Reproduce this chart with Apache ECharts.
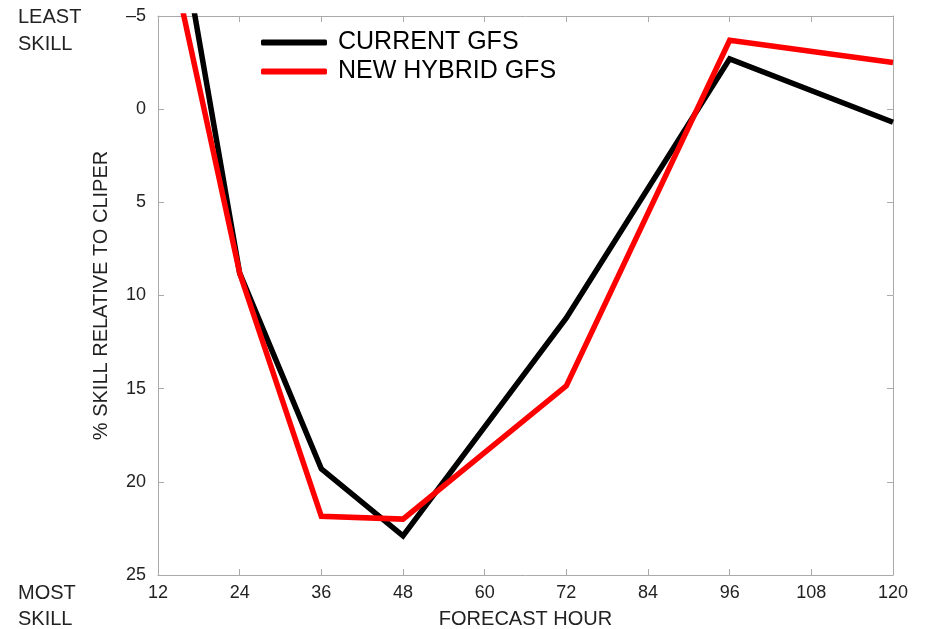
<!DOCTYPE html>
<html>
<head>
<meta charset="utf-8">
<script src="https://cdn.jsdelivr.net/npm/echarts@6/dist/echarts.min.js"></script>
<style>html,body{margin:0;padding:0;background:#fff;}#c{width:925px;height:629px;}</style>
</head>
<body>
<div id="c"></div>
<script>
const hours = [12, 24, 36, 48, 72, 96, 120];
const currentGFS = [-16.4, 8.8, 19.3, 22.9, 11.2, -2.7, 0.7];
const hybridGFS = [-11.4, 8.8, 21.85, 22.0, 14.85, -3.7, -2.5];
const xTicks = [12, 24, 36, 48, 60, 72, 84, 96, 108, 120];
const yTicks = [-5, 0, 5, 10, 15, 20, 25];
const seriesNames = ['CURRENT GFS', 'NEW HYBRID GFS'];

const FONT = 'Liberation Sans';
const chart = echarts.init(document.getElementById('c'));
const tickStyle = {show: true, inside: true, length: 6, lineStyle: {color: '#aaa'}};
const lineStyleAxis = {show: true, onZero: false, lineStyle: {color: '#aaa', width: 1}};
const fmtMinus = v => String(v).replace('-', '\u2013');

chart.setOption({
  animation: false,
  backgroundColor: '#fff',
  grid: {left: 158, right: 32, top: 16, bottom: 54, outerBoundsMode: 'none', containLabel: false},
  legend: {
    orient: 'vertical', left: 256, top: 25,
    itemWidth: 66, itemHeight: 6, itemGap: 4,
    icon: 'roundRect',
    textStyle: {fontFamily: FONT, fontSize: 25, color: '#000', padding: [0, 0, 0, 6]},
    data: seriesNames
  },
  xAxis: [{
    type: 'value', min: xTicks[0], max: xTicks[xTicks.length - 1], interval: 12,
    name: 'FORECAST HOUR', nameLocation: 'middle', nameGap: 34,
    nameTextStyle: {fontFamily: FONT, fontSize: 20, color: '#222'},
    axisLine: lineStyleAxis, axisTick: tickStyle,
    axisLabel: {fontFamily: FONT, fontSize: 18, color: '#222', margin: 9},
    splitLine: {show: false}
  }, {
    type: 'value', position: 'top', min: xTicks[0], max: xTicks[xTicks.length - 1], interval: 12,
    axisLine: lineStyleAxis, axisTick: tickStyle, axisLabel: {show: false}, splitLine: {show: false}
  }],
  yAxis: [{
    type: 'value', inverse: true, min: yTicks[0], max: yTicks[yTicks.length - 1], interval: 5,
    name: '% SKILL RELATIVE TO CLIPER', nameLocation: 'middle', nameGap: 47,
    nameTextStyle: {fontFamily: FONT, fontSize: 20, color: '#222'},
    axisLine: lineStyleAxis, axisTick: tickStyle,
    axisLabel: {fontFamily: FONT, fontSize: 18, color: '#222', margin: 12, formatter: fmtMinus},
    splitLine: {show: false}
  }, {
    type: 'value', position: 'right', inverse: true, min: yTicks[0], max: yTicks[yTicks.length - 1], interval: 5,
    axisLine: lineStyleAxis, axisTick: tickStyle, axisLabel: {show: false}, splitLine: {show: false}
  }],
  graphic: [
    {type: 'text', left: 18, top: 4, style: {text: 'LEAST\nSKILL', font: '20px "Liberation Sans"', fill: '#222', lineHeight: 27}},
    {type: 'text', left: 18, top: 580, style: {text: 'MOST\nSKILL', font: '20px "Liberation Sans"', fill: '#222', lineHeight: 26}}
  ],
  series: [{
    name: seriesNames[0], type: 'line', showSymbol: false, clip: true,
    data: hours.map((h, i) => [h, currentGFS[i]]),
    lineStyle: {color: '#000', width: 5.5, join: 'miter'}, itemStyle: {color: '#000'}
  }, {
    name: seriesNames[1], type: 'line', showSymbol: false, clip: true,
    data: hours.map((h, i) => [h, hybridGFS[i]]),
    lineStyle: {color: '#ff0000', width: 5.5, join: 'miter'}, itemStyle: {color: '#ff0000'}
  }]
});
</script>
</body>
</html>
